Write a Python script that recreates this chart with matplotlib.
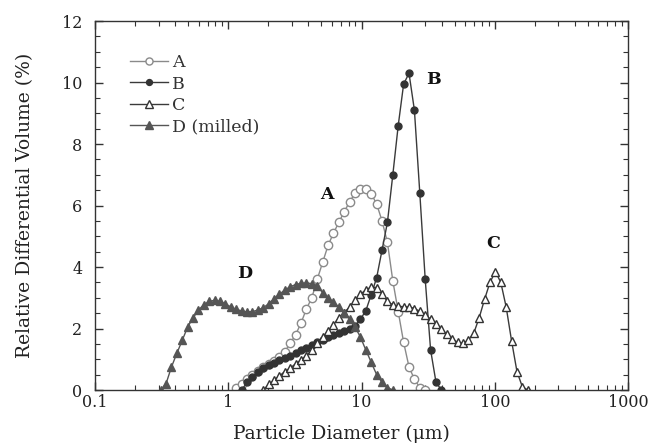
import matplotlib
matplotlib.use("Agg")
import matplotlib.pyplot as plt
from matplotlib.ticker import MultipleLocator, LogLocator, FixedLocator, NullFormatter

plt.rcParams['font.family'] = ['DejaVu Serif']

# ---- data (particle size channels, µm) ----
x_A = [1.149, 1.261, 1.385, 1.520, 1.669, 1.832, 2.010, 2.207, 2.423, 2.660, 2.920,
       3.205, 3.519, 3.863, 4.240, 4.655, 5.110, 5.610, 6.158, 6.760, 7.421, 8.147,
       8.943, 9.818, 10.78, 11.83, 12.99, 14.26, 15.65, 17.18, 18.86, 20.71, 22.73,
       24.95, 27.39, 30.07]
y_A = [0.05, 0.20, 0.35, 0.50, 0.62, 0.74, 0.85, 0.95, 1.07, 1.25, 1.52,
       1.80, 2.18, 2.64, 3.00, 3.60, 4.15, 4.70, 5.10, 5.45, 5.80, 6.12,
       6.40, 6.55, 6.55, 6.38, 6.05, 5.50, 4.80, 3.55, 2.55, 1.55, 0.75,
       0.35, 0.08, 0.00]

x_B = [1.261, 1.385, 1.520, 1.669, 1.832, 2.010, 2.207, 2.423, 2.660, 2.920,
       3.205, 3.519, 3.863, 4.240, 4.655, 5.110, 5.610, 6.158, 6.760, 7.421, 8.147,
       8.943, 9.818, 10.78, 11.83, 12.99, 14.26, 15.65, 17.18, 18.86, 20.71, 22.73,
       24.95, 27.39, 30.07, 33.01, 36.24, 39.78]
y_B = [0.00, 0.25, 0.42, 0.57, 0.70, 0.80, 0.88, 0.96, 1.03, 1.10,
       1.20, 1.30, 1.38, 1.46, 1.55, 1.63, 1.71, 1.79, 1.86, 1.93, 2.00,
       2.08, 2.30, 2.58, 3.10, 3.65, 4.55, 5.45, 7.00, 8.60, 9.95, 10.30,
       9.10, 6.40, 3.60, 1.30, 0.25, 0.00]

x_C = [1.832, 2.010, 2.207, 2.423, 2.660, 2.920, 3.205, 3.519, 3.863, 4.240, 4.655,
       5.110, 5.610, 6.158, 6.760, 7.421, 8.147, 8.943, 9.818, 10.78, 11.83, 12.99,
       14.26, 15.65, 17.18, 18.86, 20.71, 22.73, 24.95, 27.39, 30.07, 33.01, 36.24,
       39.78, 43.67, 47.94, 52.62, 57.77, 63.41, 69.61, 76.42, 83.89, 92.09, 101.1,
       111.0, 121.8, 133.7, 146.8, 161.2, 176.9]
y_C = [0.00, 0.18, 0.32, 0.46, 0.60, 0.72, 0.85, 0.98, 1.12, 1.30, 1.52,
       1.72, 1.92, 2.12, 2.35, 2.52, 2.70, 2.92, 3.12, 3.25, 3.35, 3.33,
       3.12, 2.88, 2.77, 2.72, 2.71, 2.70, 2.65, 2.56, 2.45, 2.30, 2.15,
       1.98, 1.82, 1.66, 1.55, 1.52, 1.62, 1.85, 2.35, 2.95, 3.50, 3.85,
       3.50, 2.70, 1.60, 0.60, 0.10, 0.00]

x_D = [0.311, 0.341, 0.375, 0.412, 0.452, 0.496, 0.545, 0.598, 0.657, 0.721, 0.791,
       0.869, 0.953, 1.047, 1.149, 1.261, 1.385, 1.520, 1.669, 1.832, 2.010, 2.207,
       2.423, 2.660, 2.920, 3.205, 3.519, 3.863, 4.240, 4.655, 5.110, 5.610, 6.158,
       6.760, 7.421, 8.147, 8.943, 9.818, 10.78, 11.83, 12.99, 14.26, 15.65, 17.18]
y_D = [0.00, 0.20, 0.75, 1.20, 1.62, 2.05, 2.35, 2.60, 2.78, 2.88, 2.92,
       2.88, 2.80, 2.70, 2.62, 2.57, 2.54, 2.55, 2.60, 2.68, 2.80, 2.97,
       3.12, 3.25, 3.36, 3.43, 3.47, 3.48, 3.46, 3.38, 3.17, 3.00, 2.86,
       2.70, 2.52, 2.30, 2.05, 1.72, 1.30, 0.90, 0.50, 0.25, 0.08, 0.00]

series_labels = ['A', 'B', 'C', 'D (milled)']
peak_labels = ['A', 'B', 'C', 'D']
peak_label_pos = [(5.5, 6.35), (35.0, 10.1), (98.0, 4.78), (1.34, 3.8)]

x_ticks = [0.1, 1, 10, 100, 1000]
x_ticklabels = ['0.1', '1', '10', '100', '1000']
y_ticks = [0, 2, 4, 6, 8, 10, 12]

# ---- figure ----
fig = plt.figure(figsize=(6.48, 4.44), dpi=100)
ax = fig.add_axes([95/648, 1-390/444, 533/648, 369/444])

ax.plot(x_A, y_A, color='#8a8a8a', lw=1.0, marker='o', ms=6.0, mfc='white',
        mec='#8a8a8a', mew=1.0, label=series_labels[0])
ax.plot(x_B, y_B, color='#3a3a3a', lw=1.0, marker='o', ms=5.0, mfc='#333333',
        mec='#333333', label=series_labels[1])
ax.plot(x_C, y_C, color='#3a3a3a', lw=1.0, marker='^', ms=6.0, mfc='white',
        mec='#333333', mew=1.0, label=series_labels[2])
ax.plot(x_D, y_D, color='#555555', lw=1.0, marker='^', ms=6.0, mfc='#555555',
        mec='#555555', label=series_labels[3])

for lab, (px, py) in zip(peak_labels, peak_label_pos):
    ax.text(px, py, lab, fontsize=12.5, fontweight='bold', ha='center', va='center',
            color='#111111')

ax.set_xscale('log')
ax.set_xlim(0.1, 1000)
ax.set_ylim(0, 12)
ax.xaxis.set_major_locator(FixedLocator(x_ticks))
ax.set_xticklabels(x_ticklabels)
ax.xaxis.set_minor_locator(LogLocator(base=10, subs=range(2, 10)))
ax.xaxis.set_minor_formatter(NullFormatter())
ax.set_yticks(y_ticks)
ax.yaxis.set_minor_locator(MultipleLocator(0.5))

ax.tick_params(which='both', direction='in', top=True, right=True, colors='#333333',
               labelcolor='#222222', labelsize=11.5)
ax.tick_params(which='major', length=6, width=1.0)
ax.tick_params(which='minor', length=3.5, width=0.8)
ax.tick_params(axis='y', pad=9)
ax.tick_params(axis='x', pad=3)
for s in ax.spines.values():
    s.set_color('#333333')
    s.set_linewidth(1.0)

ax.set_xlabel('Particle Diameter (μm)', fontsize=13.5, color='#222222')
ax.xaxis.set_label_coords(0.463, -0.095)
ax.set_ylabel('Relative Differential Volume (%)', fontsize=13.5, color='#222222')
ax.yaxis.set_label_coords(-0.115, 0.5)

leg = ax.legend(loc='upper left', bbox_to_anchor=(0.065, 0.91), frameon=False,
                fontsize=12.5, handlelength=2.2, handletextpad=0.25, labelspacing=0.25,
                borderpad=0, borderaxespad=0, numpoints=1, markerscale=0.85)
for t in leg.get_texts():
    t.set_color('#333333')

fig.savefig('out.png', dpi=100)
